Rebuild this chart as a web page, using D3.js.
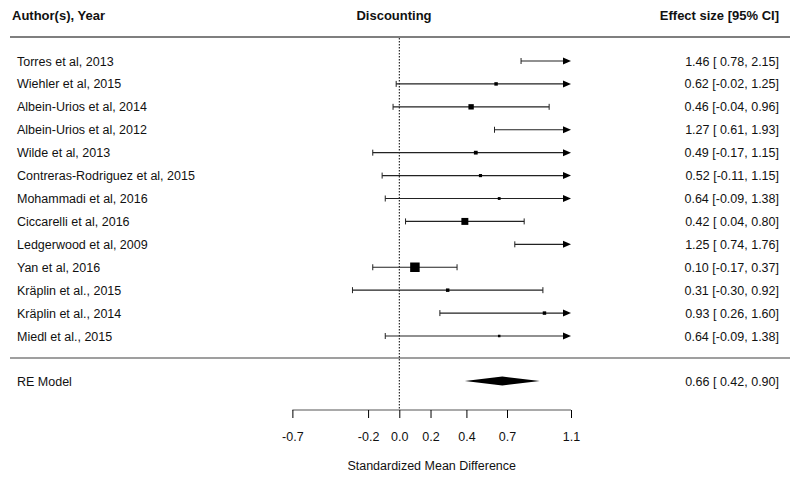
<!DOCTYPE html>
<html>
<head>
<meta charset="utf-8">
<script src="https://cdn.jsdelivr.net/npm/d3@7"></script>
<style>
  body { margin: 0; background: #fff; }
  text { font-family: "Liberation Sans", Arial, sans-serif; fill: #111; }
  .hdr { font-family: "Liberation Sans Narrow", "Liberation Sans", Arial, sans-serif; font-weight: bold; font-size: 13px; }
</style>
</head>
<body>
<div id="chart"></div>
<script>
// study data
var authors = ["Torres et al, 2013", "Wiehler et al, 2015", "Albein-Urios et al, 2014",
  "Albein-Urios et al, 2012", "Wilde et al, 2013", "Contreras-Rodriguez et al, 2015",
  "Mohammadi et al, 2016", "Ciccarelli et al, 2016", "Ledgerwood et al, 2009",
  "Yan et al, 2016", "Kräplin et al., 2015", "Kräplin et al., 2014", "Miedl et al., 2015"];
var est   = [1.46, 0.62, 0.46, 1.27, 0.49, 0.52, 0.64, 0.42, 1.25, 0.10, 0.31, 0.93, 0.64];
var lower = [0.78, -0.02, -0.04, 0.61, -0.17, -0.11, -0.09, 0.04, 0.74, -0.17, -0.30, 0.26, -0.09];
var upper = [2.15, 1.25, 0.96, 1.93, 1.15, 1.15, 1.38, 0.80, 1.76, 0.37, 0.92, 1.60, 1.38];
var weights = [8, 6.5, 9.5, 7, 7, 6, 5.5, 12, 9, 16, 6.5, 6.5, 5];   // relative weight (%), estimated

var reModel = { label: "RE Model", est: 0.66, lower: 0.42, upper: 0.90 };

var tickVals = [-0.685, -0.2, 0, 0.2, 0.43, 0.69, 1.1];
var xMin = -0.685, xMax = 1.1;

var width = 800, height = 481;

var svg = d3.select("#chart").append("svg")
    .attr("width", width)
    .attr("height", height);

var x = d3.scaleLinear().domain([0, 1.1]).range([399.3, 571]);
var y = d3.scalePoint().domain(authors).range([61, 336]);
var reY = 381;
var sq = d3.scaleLinear().domain([5, 16]).range([2.5, 9.5]);
// d3.format writes a unicode minus, the plot uses a plain hyphen
function fmt(v) { return d3.format(".2f")(v).replace("\u2212", "-"); }
function ci(v) { return (v < 0 ? "" : " ") + fmt(v); }
function plain(v) { return d3.format(".1f")(v).replace("\u2212", "-"); }

// headers
svg.append("text").attr("class", "hdr").attr("x", 12).attr("y", 20).text("Author(s), Year");
svg.append("text").attr("class", "hdr").attr("x", 394).attr("y", 20)
    .attr("text-anchor", "middle").text("Discounting");
svg.append("text").attr("class", "hdr").attr("x", 779).attr("y", 20)
    .attr("text-anchor", "end").text("Effect size [95% CI]");

// horizontal rules
[37, 358].forEach(function(yy, i) {
  svg.append("line")
      .attr("x1", 10).attr("x2", 790)
      .attr("y1", yy).attr("y2", yy)
      .attr("stroke", "#7f7f7f")
      .attr("stroke-width", i == 0 ? 2 : 1.3);
});

// zero reference line
svg.append("line")
    .attr("x1", x(0)).attr("x2", x(0))
    .attr("y1", 38).attr("y2", 410)
    .attr("stroke", "#000")
    .attr("stroke-width", 1)
    .attr("stroke-dasharray", "1.5,1.5");

var rows = authors.map(function(a, i) {
  return { name: a, est: est[i], lo: lower[i], hi: upper[i], w: weights[i] };
});

var g = svg.selectAll(".study").data(rows).enter().append("g").attr("class", "study");

g.append("text")
    .attr("x", 17)
    .attr("y", function(d) { return y(d.name) + 4.5; })
    .style("font-size", "12.5px")
    .text(function(d) { return d.name; });

g.append("text")
    .attr("x", 779)
    .attr("y", function(d) { return y(d.name) + 4.5; })
    .attr("text-anchor", "end")
    .style("font-size", "12.5px")
    .text(function(d) { return fmt(d.est) + " [" + ci(d.lo) + ", " + ci(d.hi) + "]"; });

// CI lines (clipped to the axis range)
g.append("line")
    .attr("x1", function(d) { return x(Math.max(d.lo, xMin)); })
    .attr("x2", function(d) { return d.hi > xMax ? x(xMax) - 6 : x(d.hi); })
    .attr("y1", function(d) { return y(d.name); })
    .attr("y2", function(d) { return y(d.name); })
    .attr("stroke", "#222").attr("stroke-width", 1.1);

// left caps
g.append("line")
    .attr("x1", function(d) { return x(d.lo); })
    .attr("x2", function(d) { return x(d.lo); })
    .attr("y1", function(d) { return y(d.name) - 3; })
    .attr("y2", function(d) { return y(d.name) + 3; })
    .attr("stroke", "#222");

// right caps or arrows
g.filter(function(d) { return d.hi <= xMax; }).append("line")
    .attr("x1", function(d) { return x(d.hi); })
    .attr("x2", function(d) { return x(d.hi); })
    .attr("y1", function(d) { return y(d.name) - 3; })
    .attr("y2", function(d) { return y(d.name) + 3; })
    .attr("stroke", "#222");

g.filter(function(d) { return d.hi > xMax; }).append("path")
    .attr("d", function(d) {
      var tx = x(xMax), ty = y(d.name);
      return "M" + tx + "," + ty + "L" + (tx - 8) + "," + (ty - 3.5) + "L" + (tx - 8) + "," + (ty + 3.5) + "Z";
    })
    .attr("fill", "#000");

// point estimate squares (only inside the range)
g.filter(function(d) { return d.est <= xMax; }).append("rect")
    .attr("x", function(d) { return x(d.est) - sq(d.w) / 2; })
    .attr("y", function(d) { return y(d.name) - sq(d.w) / 2; })
    .attr("width", function(d) { return sq(d.w); })
    .attr("height", function(d) { return sq(d.w); })
    .attr("fill", "#000");

// summary
svg.append("text").attr("x", 17).attr("y", reY + 4.5)
    .style("font-size", "12.5px").text(reModel.label);
svg.append("text").attr("x", 779).attr("y", reY + 4.5)
    .attr("text-anchor", "end").style("font-size", "12.5px")
    .text(fmt(reModel.est) + " [" + ci(reModel.lower) + ", " + ci(reModel.upper) + "]");
svg.append("path")
    .attr("d", "M" + x(reModel.lower) + "," + reY
        + "L" + x(reModel.est) + "," + (reY - 4.5)
        + "L" + x(reModel.upper) + "," + reY
        + "L" + x(reModel.est) + "," + (reY + 4.5) + "Z")
    .attr("fill", "#000");

// x axis
var axis = svg.append("g")
    .attr("transform", "translate(0,410)")
    .call(d3.axisBottom(x).tickValues(tickVals).tickSize(8).tickSizeOuter(0)
      .tickFormat(plain));
axis.select(".domain").attr("stroke", "#555").attr("d", "M" + x(xMin) + ",0H" + x(xMax));
axis.selectAll(".tick line").attr("stroke", "#000").attr("y1", 0);
axis.selectAll(".tick text")
    .attr("y", 22)
    .style("font-size", "12.5px")
    .style("font-family", "'Liberation Sans', Arial, sans-serif")
    .attr("fill", "#111");

svg.append("text")
    .attr("x", (x(xMin) + x(xMax)) / 2)
    .attr("y", 470)
    .attr("text-anchor", "middle")
    .style("font-size", "12.5px")
    .text("Standardized Mean Difference");
</script>
</body>
</html>
